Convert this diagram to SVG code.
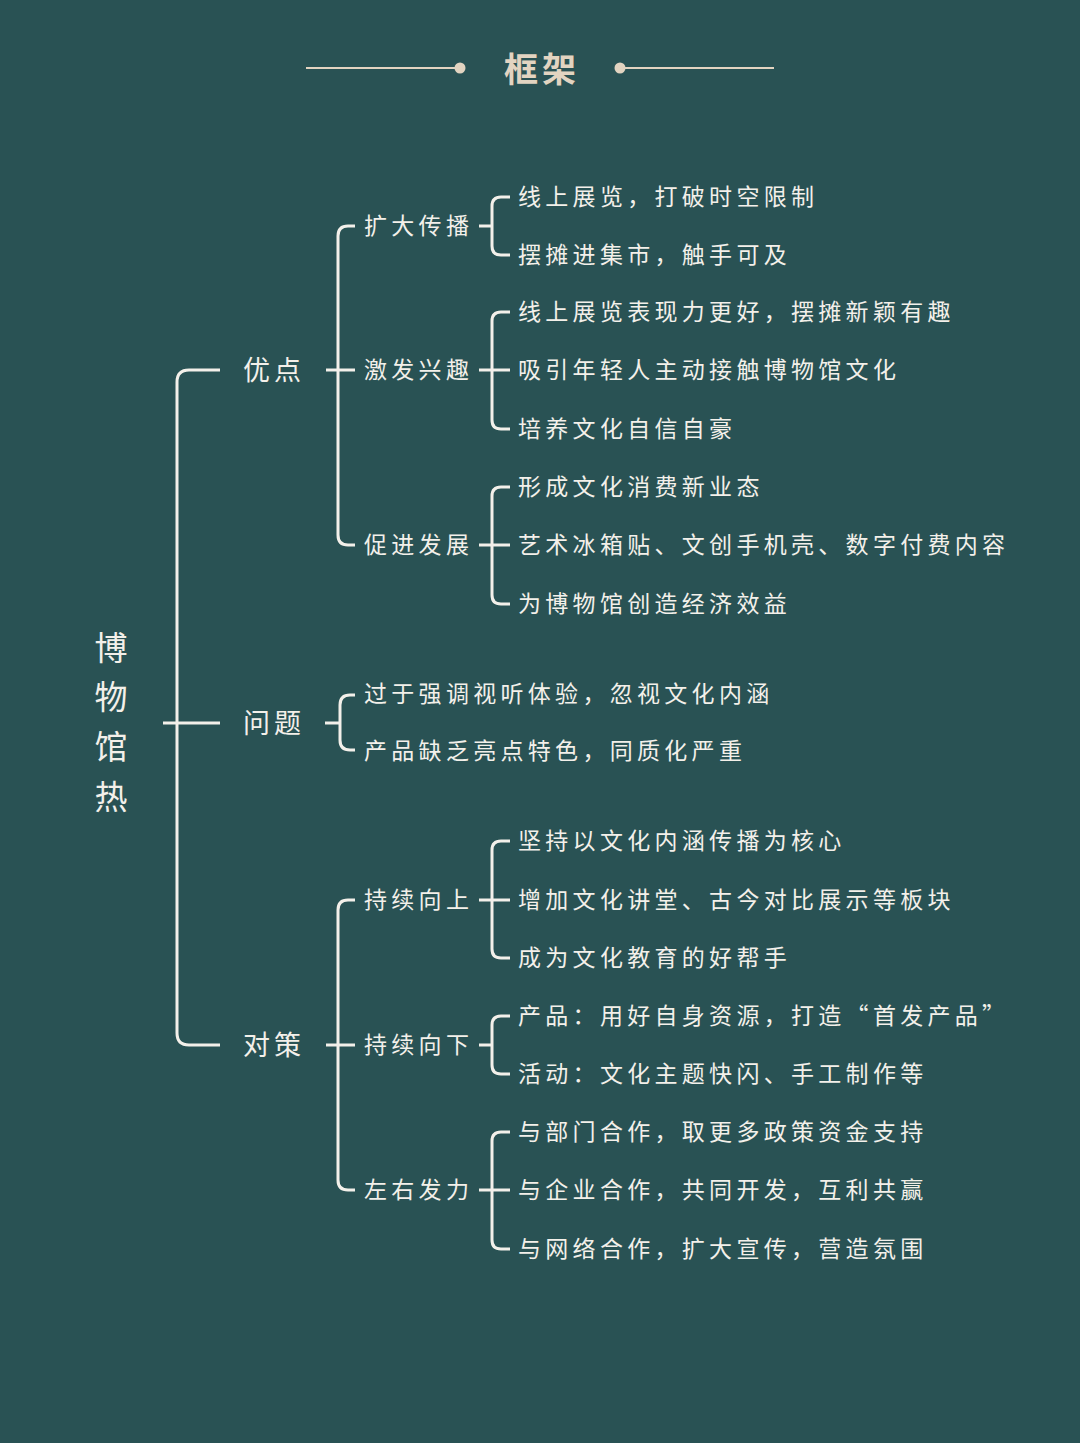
<svg xmlns="http://www.w3.org/2000/svg" width="1080" height="1443" viewBox="0 0 1080 1443">
<style>
.bg{fill:#295254}
.ln{fill:none;stroke:#f3f0ea;stroke-width:3}
.t{font-family:"Noto Sans CJK SC","Noto Sans",sans-serif;fill:#f3f0ea;dominant-baseline:central}
.l1{font-size:27px;letter-spacing:4px}
.l2{font-size:23px;letter-spacing:4.3px}
.l3{font-size:23px;letter-spacing:4.3px}
.root{font-size:33px;text-anchor:middle}
.title{font-family:"Noto Sans CJK SC","Noto Sans",sans-serif;font-size:34px;font-weight:700;fill:#e2d4c1;letter-spacing:4px;text-anchor:middle;dominant-baseline:central}
.deco{stroke:#e2d4c1;stroke-width:2;fill:none}
</style>
<rect class="bg" x="0" y="0" width="1080" height="1443"/>
<g id="title">
<line class="deco" x1="306" y1="68" x2="458" y2="68"/>
<circle cx="460" cy="68" r="5.5" fill="#e2d4c1"/>
<line class="deco" x1="622" y1="68" x2="774" y2="68"/>
<circle cx="620" cy="68" r="5.5" fill="#e2d4c1"/>
<text class="title" x="542" y="67">框架</text>
</g>
<g id="connectors">
<path class="ln" d="M220,370 H189 Q177,370 177,382 V1033 Q177,1045 189,1045 H220"/>
<path class="ln" d="M163,723 H220"/>
<path class="ln" d="M355,226 H348 Q338,226 338,236 V535 Q338,545 348,545 H355"/>
<path class="ln" d="M326,370 H355"/>
<path class="ln" d="M355,695 H350 Q340,695 340,705 V740 Q340,750 350,750 H355"/>
<path class="ln" d="M325,723 H340"/>
<path class="ln" d="M355,900 H348 Q338,900 338,910 V1180 Q338,1190 348,1190 H355"/>
<path class="ln" d="M326,1045 H355"/>
<path class="ln" d="M510,197 H501 Q492,197 492,206 V246 Q492,255 501,255 H510"/>
<path class="ln" d="M479,226 H492"/>
<path class="ln" d="M510,312 H501 Q492,312 492,321 V420 Q492,429 501,429 H510"/>
<path class="ln" d="M479,370 H510"/>
<path class="ln" d="M510,487 H501 Q492,487 492,496 V595 Q492,604 501,604 H510"/>
<path class="ln" d="M479,545 H510"/>
<path class="ln" d="M510,841 H501 Q492,841 492,850 V949 Q492,958 501,958 H510"/>
<path class="ln" d="M479,900 H510"/>
<path class="ln" d="M510,1016 H501 Q492,1016 492,1025 V1065 Q492,1074 501,1074 H510"/>
<path class="ln" d="M479,1045 H492"/>
<path class="ln" d="M510,1132 H501 Q492,1132 492,1141 V1240 Q492,1249 501,1249 H510"/>
<path class="ln" d="M479,1190 H510"/>
</g>
<g id="root">
<text class="t root" x="111" y="646">博</text>
<text class="t root" x="111" y="695">物</text>
<text class="t root" x="111" y="745">馆</text>
<text class="t root" x="111" y="795">热</text>
</g>
<g id="n-youdian"><text class="t l1" x="243" y="368">优点</text></g>
<g id="n-wenti"><text class="t l1" x="243" y="721">问题</text></g>
<g id="n-duice"><text class="t l1" x="243" y="1043">对策</text></g>
<g id="n-kuoda"><text class="t l2" x="364" y="224">扩大传播</text></g>
<g id="n-jifa"><text class="t l2" x="364" y="368">激发兴趣</text></g>
<g id="n-cujin"><text class="t l2" x="364" y="543">促进发展</text></g>
<g id="n-xiangshang"><text class="t l2" x="364" y="898">持续向上</text></g>
<g id="n-xiangxia"><text class="t l2" x="364" y="1043">持续向下</text></g>
<g id="n-zuoyou"><text class="t l2" x="364" y="1188">左右发力</text></g>
<g id="n-w1"><text class="t l3" x="364" y="692">过于强调视听体验，忽视文化内涵</text></g>
<g id="n-w2"><text class="t l3" x="364" y="749">产品缺乏亮点特色，同质化严重</text></g>
<g id="n-a1"><text class="t l3" x="518" y="195">线上展览，打破时空限制</text></g>
<g id="n-a2"><text class="t l3" x="518" y="253">摆摊进集市，触手可及</text></g>
<g id="n-b1"><text class="t l3" x="518" y="310">线上展览表现力更好，摆摊新颖有趣</text></g>
<g id="n-b2"><text class="t l3" x="518" y="368">吸引年轻人主动接触博物馆文化</text></g>
<g id="n-b3"><text class="t l3" x="518" y="427">培养文化自信自豪</text></g>
<g id="n-c1"><text class="t l3" x="518" y="485">形成文化消费新业态</text></g>
<g id="n-c2"><text class="t l3" x="518" y="543">艺术冰箱贴、文创手机壳、数字付费内容</text></g>
<g id="n-c3"><text class="t l3" x="518" y="602">为博物馆创造经济效益</text></g>
<g id="n-d1"><text class="t l3" x="518" y="839">坚持以文化内涵传播为核心</text></g>
<g id="n-d2"><text class="t l3" x="518" y="898">增加文化讲堂、古今对比展示等板块</text></g>
<g id="n-d3"><text class="t l3" x="518" y="956">成为文化教育的好帮手</text></g>
<g id="n-e1"><text class="t l3" x="518" y="1014">产品：用好自身资源，打造“首发产品”</text></g>
<g id="n-e2"><text class="t l3" x="518" y="1072">活动：文化主题快闪、手工制作等</text></g>
<g id="n-f1"><text class="t l3" x="518" y="1130">与部门合作，取更多政策资金支持</text></g>
<g id="n-f2"><text class="t l3" x="518" y="1188">与企业合作，共同开发，互利共赢</text></g>
<g id="n-f3"><text class="t l3" x="518" y="1247">与网络合作，扩大宣传，营造氛围</text></g>
</svg>
